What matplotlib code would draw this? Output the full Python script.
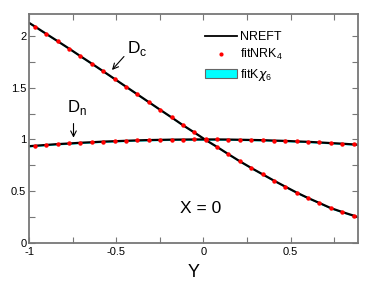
import numpy as np
import matplotlib
matplotlib.use("Agg")
import matplotlib.pyplot as plt
from matplotlib.patches import Patch
from matplotlib.lines import Line2D
from matplotlib.ticker import MultipleLocator

plt.rcParams['font.family'] = ['Liberation Sans', 'DejaVu Sans']
plt.rcParams['axes.unicode_minus'] = False

# fit points (red dots)
y_pts = [-0.966, -0.901, -0.836, -0.770, -0.705, -0.640, -0.575, -0.509, -0.444, -0.379,
         -0.314, -0.248, -0.183, -0.118, -0.053, 0.013, 0.078, 0.143, 0.208, 0.274,
         0.339, 0.404, 0.469, 0.535, 0.600, 0.665, 0.730, 0.796, 0.861]
dc_pts = [2.089, 2.018, 1.948, 1.876, 1.803, 1.731, 1.658, 1.583, 1.509, 1.435,
          1.361, 1.286, 1.213, 1.138, 1.068, 0.995, 0.928, 0.858, 0.790, 0.725,
          0.664, 0.603, 0.545, 0.487, 0.435, 0.387, 0.338, 0.300, 0.265]
dn_pts = [0.939, 0.947, 0.955, 0.961, 0.968, 0.973, 0.979, 0.983, 0.987, 0.991,
          0.994, 0.996, 0.998, 0.999, 1.000, 1.000, 1.000, 0.999, 0.997, 0.995,
          0.993, 0.989, 0.986, 0.981, 0.977, 0.971, 0.965, 0.959, 0.952]

# NREFT curve
y_line = [-1.0] + y_pts + [0.886]
dc_line = [2.125] + dc_pts + [0.25]
dn_line = [0.935] + dn_pts + [0.949]

fig = plt.figure(figsize=(3.82, 2.86), dpi=100)
ax = fig.add_axes([0.076, 0.150, 0.861, 0.801])

band = 0.008
for vals in (dc_line, dn_line):
    v = np.array(vals)
    ax.fill_between(y_line, v - band, v + band, color='cyan', lw=0, zorder=1)
    ax.plot(y_line, v, color='black', lw=1.6, zorder=2)
ax.plot(y_pts, dc_pts, 'o', color='red', ms=3.2, mew=0, zorder=3)
ax.plot(y_pts, dn_pts, 'o', color='red', ms=3.2, mew=0, zorder=3)

ax.set_xlim(-1, 0.886)
ax.set_ylim(0, 2.21)
ax.xaxis.set_minor_locator(MultipleLocator(0.25))
ax.yaxis.set_minor_locator(MultipleLocator(0.25))
ax.set_xticks([-1, -0.5, 0, 0.5])
ax.set_xticklabels(['-1', '-0.5', '0', '0.5'])
ax.set_yticks([0, 0.5, 1, 1.5, 2])
ax.set_yticklabels(['0', '0.5', '1', '1.5', '2'])
ax.tick_params(which='both', direction='in', top=True, right=True,
               labelsize=8, color='#777777', pad=2)
ax.tick_params(axis='x', pad=3)
ax.tick_params(which='major', length=4, width=0.8)
ax.tick_params(which='minor', length=4, width=0.8)
for s in ax.spines.values():
    s.set_color('#777777')
    s.set_linewidth(1.3)

ax.set_xlabel('Y', fontsize=13, labelpad=5)

ax.text(-0.018, 0.33, 'X = 0', fontsize=12.5, ha='center', va='center')
ax.annotate('', xy=(-0.535, 1.65), xytext=(-0.445, 1.82),
            arrowprops=dict(arrowstyle='->', color='black', lw=0.8))
ax.text(-0.44, 1.88, r'D$_\mathregular{c}$', fontsize=12.5, va='center')
ax.annotate('', xy=(-0.745, 0.99), xytext=(-0.745, 1.18),
            arrowprops=dict(arrowstyle='->', color='black', lw=0.8))
ax.text(-0.78, 1.31, r'D$_\mathregular{n}$', fontsize=12, va='center')

handles = [Line2D([], [], color='black', lw=1.3),
           Line2D([], [], marker='o', ls='', color='red', ms=3, mew=0),
           Patch(facecolor='cyan', edgecolor='#666666', lw=0.8)]
labels = ['NREFT', r'fitNRK$_\mathregular{4}$', r'fitK$\chi_\mathregular{6}$']
ax.legend(handles, labels, loc='upper left', bbox_to_anchor=(0.50, 0.975),
          frameon=False, fontsize=9, handlelength=2.6, handletextpad=0.25,
          labelspacing=0.35)

fig.savefig('out.png', dpi=100)
